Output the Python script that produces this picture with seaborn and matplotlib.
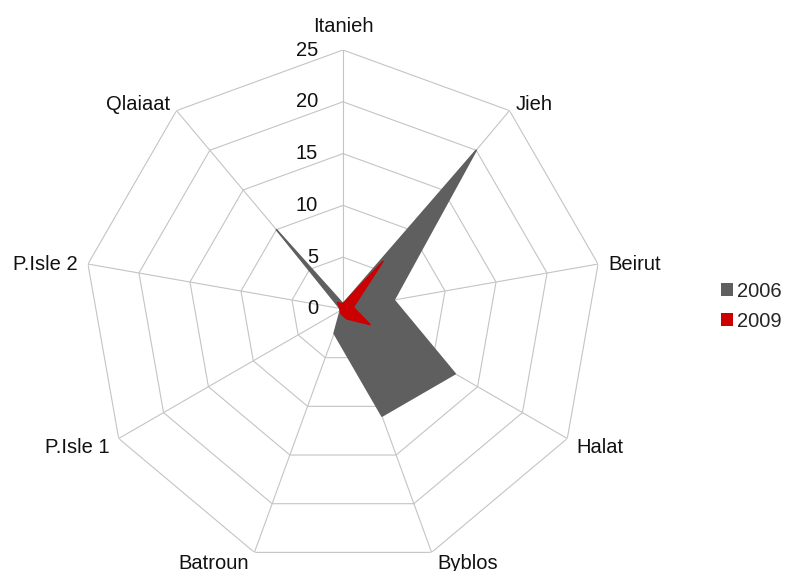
import numpy as np
import pandas as pd
import matplotlib
matplotlib.use("Agg")
import matplotlib.pyplot as plt
from matplotlib.patches import Patch
import seaborn as sns

# Sampling sites around the radar, clockwise from the top
sites = ["Itanieh", "Jieh", "Beirut", "Halat", "Byblos",
         "Batroun", "P.Isle 1", "P.Isle 2", "Qlaiaat"]
values_2006 = [0.5, 20.0, 5.0, 12.5, 11.0, 2.5, 0.3, 0.3, 10.0]
values_2009 = [0.5, 6.0, 1.0, 3.0, 1.0, 0.5, 0.3, 0.3, 0.8]
series_names = ["2006", "2009"]
ring_levels = [0, 5, 10, 15, 20, 25]

sns.set_theme(style="white")
plt.rcParams["font.family"] = ["Liberation Sans", "DejaVu Sans"]

colors = {"2006": "#5f5f5f", "2009": "#cc0000"}
grid_color = "#c4c4c4"
fs = 14.5

n = len(sites)
theta = np.arange(n) * 2 * np.pi / n
theta_closed = np.append(theta, theta[0])

fig = plt.figure(figsize=(7.85, 5.71), dpi=100)
cx, cy, rad = 343, 309, 259
W, H = 785, 571
ax = fig.add_axes([(cx - rad) / W, (H - cy - rad) / H, 2 * rad / W, 2 * rad / H],
                  projection="polar")
ax.set_theta_offset(np.pi / 2)
ax.set_theta_direction(-1)
ax.set_ylim(0, ring_levels[-1])
ax.grid(False)
ax.spines["polar"].set_visible(False)
ax.set_xticks([])
ax.set_yticks([])
ax.patch.set_alpha(0)

# Polygonal rings and spokes
for lvl in ring_levels[1:]:
    ax.plot(theta_closed, [lvl] * (n + 1), color=grid_color, lw=0.8, zorder=1)
for t in theta:
    ax.plot([t, t], [0, ring_levels[-1]], color=grid_color, lw=0.8, zorder=1)

# Filled series (older year underneath)
df = pd.DataFrame({"site": sites, "2006": values_2006, "2009": values_2009})
for name in series_names:
    vals = df[name].tolist()
    vals = vals + vals[:1]
    ax.fill(theta_closed, vals, color=colors[name], lw=0, zorder=3)
    ax.plot(theta_closed, vals, color=colors[name], lw=1.2, zorder=3)

# Radial scale along the top spoke
for lvl in ring_levels:
    ax.annotate(str(lvl), xy=(0, lvl), xytext=(-25, 0), textcoords="offset pixels",
                ha="right", va="center", fontsize=fs, color="#111111")

# Site labels outside each vertex
for t, name in zip(theta, sites):
    c, s = np.sin(t), np.cos(t)
    if abs(c) < 0.1:
        off = (0, 24 * np.sign(s))
        ha = "center"
    elif s < -0.9:
        off = (6 * np.sign(c), -11)
        ha = "left" if c > 0 else "right"
    else:
        off = (10 * c, 12 * s - 3)
        ha = "left" if c > 0 else "right"
    ax.annotate(name, xy=(t, ring_levels[-1]), xytext=off, textcoords="offset pixels",
                ha=ha, va="center", fontsize=fs, color="#111111", annotation_clip=False)

handles = [Patch(facecolor=colors[nm], edgecolor="none", label=nm) for nm in series_names]
fig.legend(handles=handles, loc="center left", bbox_to_anchor=(0.918, 0.464),
           frameon=False, fontsize=fs, handlelength=0.6, handleheight=0.6,
           handletextpad=0.2, labelspacing=0.55, borderaxespad=0, borderpad=0)

fig.savefig("out.png", dpi=100)
